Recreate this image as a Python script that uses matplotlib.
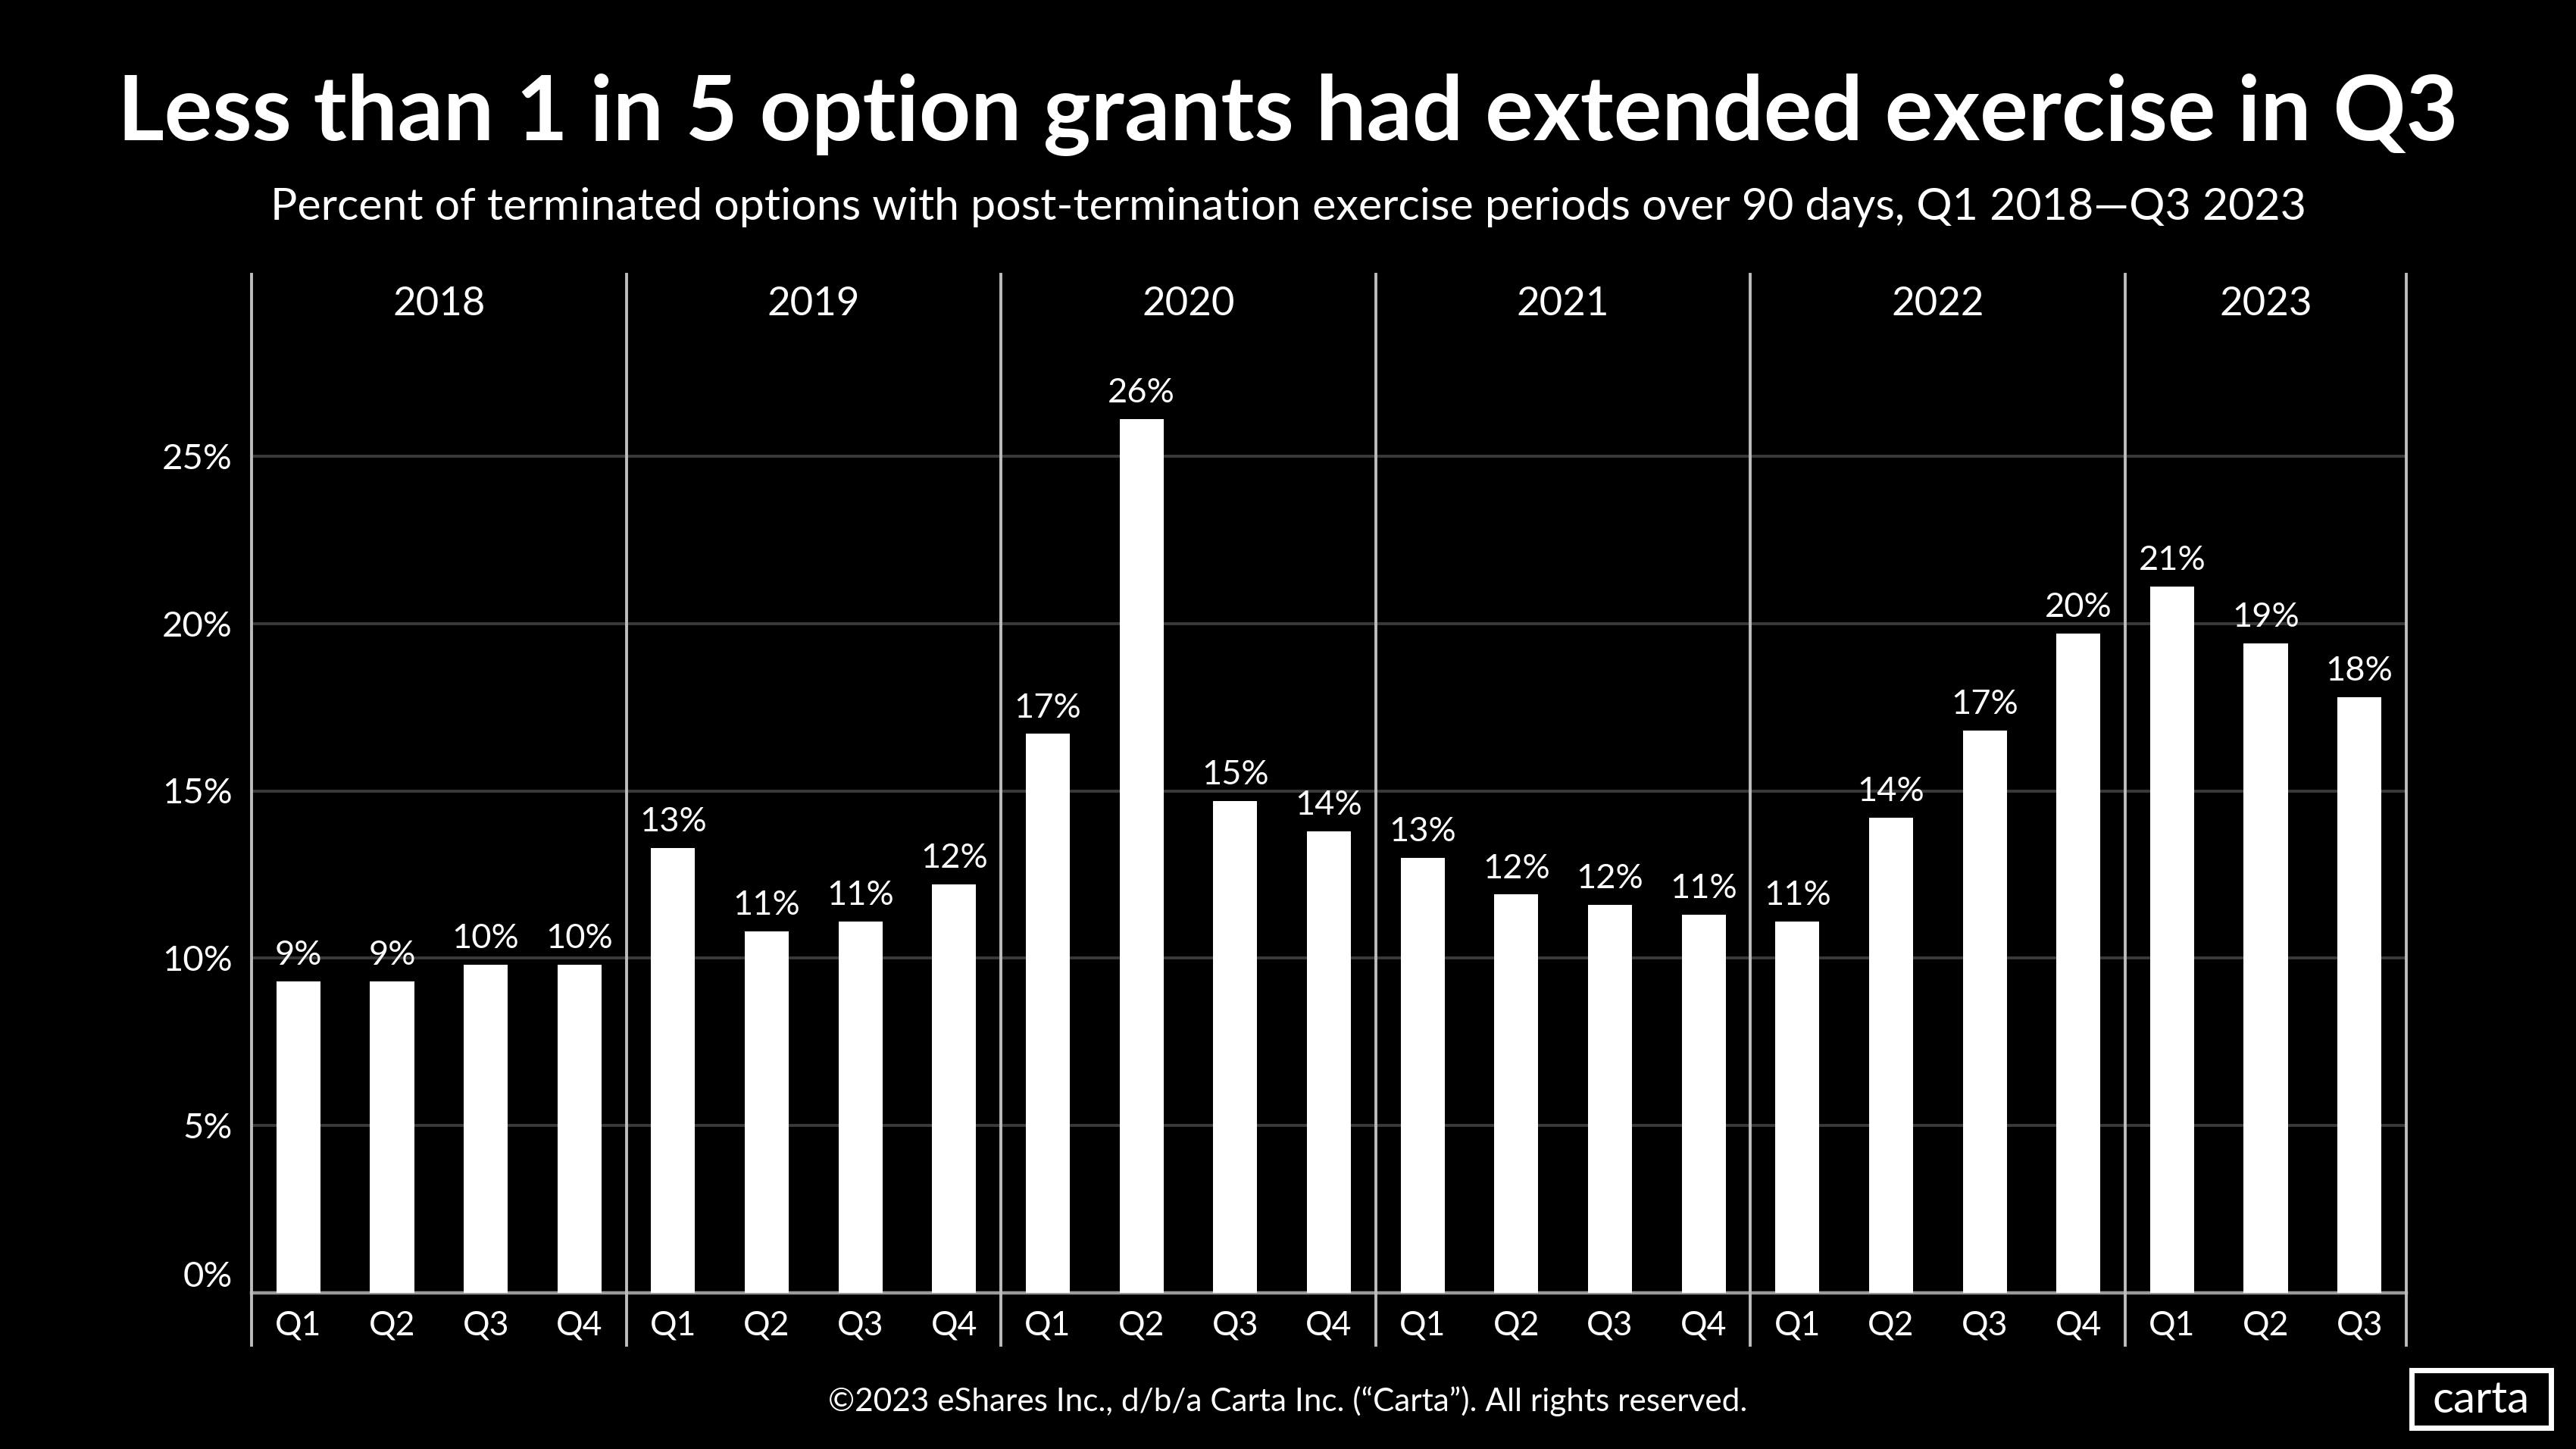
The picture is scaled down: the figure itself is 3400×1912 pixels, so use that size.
import matplotlib.pyplot as plt
from matplotlib.patches import Rectangle
from matplotlib.transforms import blended_transform_factory

# data (percent of terminated options, PTEP > 90 days)
years = ["2018", "2019", "2020", "2021", "2022", "2023"]
quarters_per_year = [4, 4, 4, 4, 4, 3]
quarter_labels = ["Q1", "Q2", "Q3", "Q4"] * 5 + ["Q1", "Q2", "Q3"]
values = [9.3, 9.3, 9.8, 9.8,
          13.3, 10.8, 11.1, 12.2,
          16.7, 26.1, 14.7, 13.8,
          13.0, 11.9, 11.6, 11.3,
          11.1, 14.2, 16.8, 19.7,
          21.1, 19.4, 17.8]
y_ticks = [0, 5, 10, 15, 20, 25]

title = "Less than 1 in 5 option grants had extended exercise in Q3"
subtitle = ("Percent of terminated options with post-termination exercise periods "
            "over 90 days, Q1 2018\u2014Q3 2023")
footer = "\u00a92023 eShares Inc., d/b/a Carta Inc. (\u201cCarta\u201d). All rights reserved."

plt.rcParams["font.family"] = ["Lato", "DejaVu Sans"]

fig = plt.figure(figsize=(17, 9.56), dpi=200, facecolor="black")
W, H = 3400, 1912

# main plot area (pixel positions converted to figure fractions)
left, right, top, bottom = 332, 3176, 434, 1706
ax = fig.add_axes([left / W, 1 - bottom / H, (right - left) / W, (bottom - top) / H])
ax.set_facecolor("black")

x = list(range(len(values)))
bars = ax.bar(x, values, width=0.47, color="white", zorder=3)
ax.bar_label(bars, labels=[f"{round(v)}%" for v in values], padding=5,
             color="white", fontsize=16.3)

ax.set_xlim(-0.5, len(values) - 0.5)
ax.set_ylim(0, 28.8)
ax.set_yticks(y_ticks, [f"{t}%" for t in y_ticks])
ax.set_xticks(x, quarter_labels)
ax.tick_params(axis="both", length=0, colors="white", labelsize=17)
ax.tick_params(axis="x", labelsize=16, pad=8)
ax.tick_params(axis="y", pad=9)
ax.get_yticklabels()[0].set_va("bottom")
ax.grid(axis="y", color="#3a3a3a", linewidth=1.4, zorder=0)

for s in ["top", "right", "left"]:
    ax.spines[s].set_visible(False)
ax.spines["bottom"].set_color("#9a9a9a")
ax.spines["bottom"].set_linewidth(1.6)

# year separators and headers
trans = blended_transform_factory(ax.transData, ax.transAxes)
y_top = (bottom - 362) / (bottom - top)
y_bot = (bottom - 1775) / (bottom - top)
y_year = (bottom - 401) / (bottom - top)
start = -0.5
for yr, n in zip(years, quarters_per_year):
    ax.plot([start, start], [y_bot, y_top], transform=trans, color="#bdbdbd",
            linewidth=1.4, clip_on=False, zorder=4)
    ax.text(start + n / 2, y_year, yr, transform=trans, ha="center", va="center",
            color="white", fontsize=19)
    start += n
ax.plot([start, start], [y_bot, y_top], transform=trans, color="#bdbdbd",
        linewidth=1.4, clip_on=False, zorder=4)

# titles and footer
fig.text(0.5, 1 - 152 / H, title, ha="center", va="center", color="white",
         fontsize=42.8, fontweight="bold")
fig.text(0.5, 1 - 273 / H, subtitle, ha="center", va="center", color="white",
         fontsize=21.3)
fig.text(0.5, 1 - 1849 / H, footer, ha="center", va="center", color="white",
         fontsize=15.2)

# carta logo box
fig.patches.append(Rectangle((3183 / W, 1 - 1884 / H), 184 / W, 76 / H,
                             transform=fig.transFigure, fill=False,
                             edgecolor="white", linewidth=2.5))
fig.text(3275 / W, 1 - 1848 / H, "carta", ha="center", va="center",
         color="white", fontsize=21)

fig.savefig("out.png", dpi=200, facecolor="black")
